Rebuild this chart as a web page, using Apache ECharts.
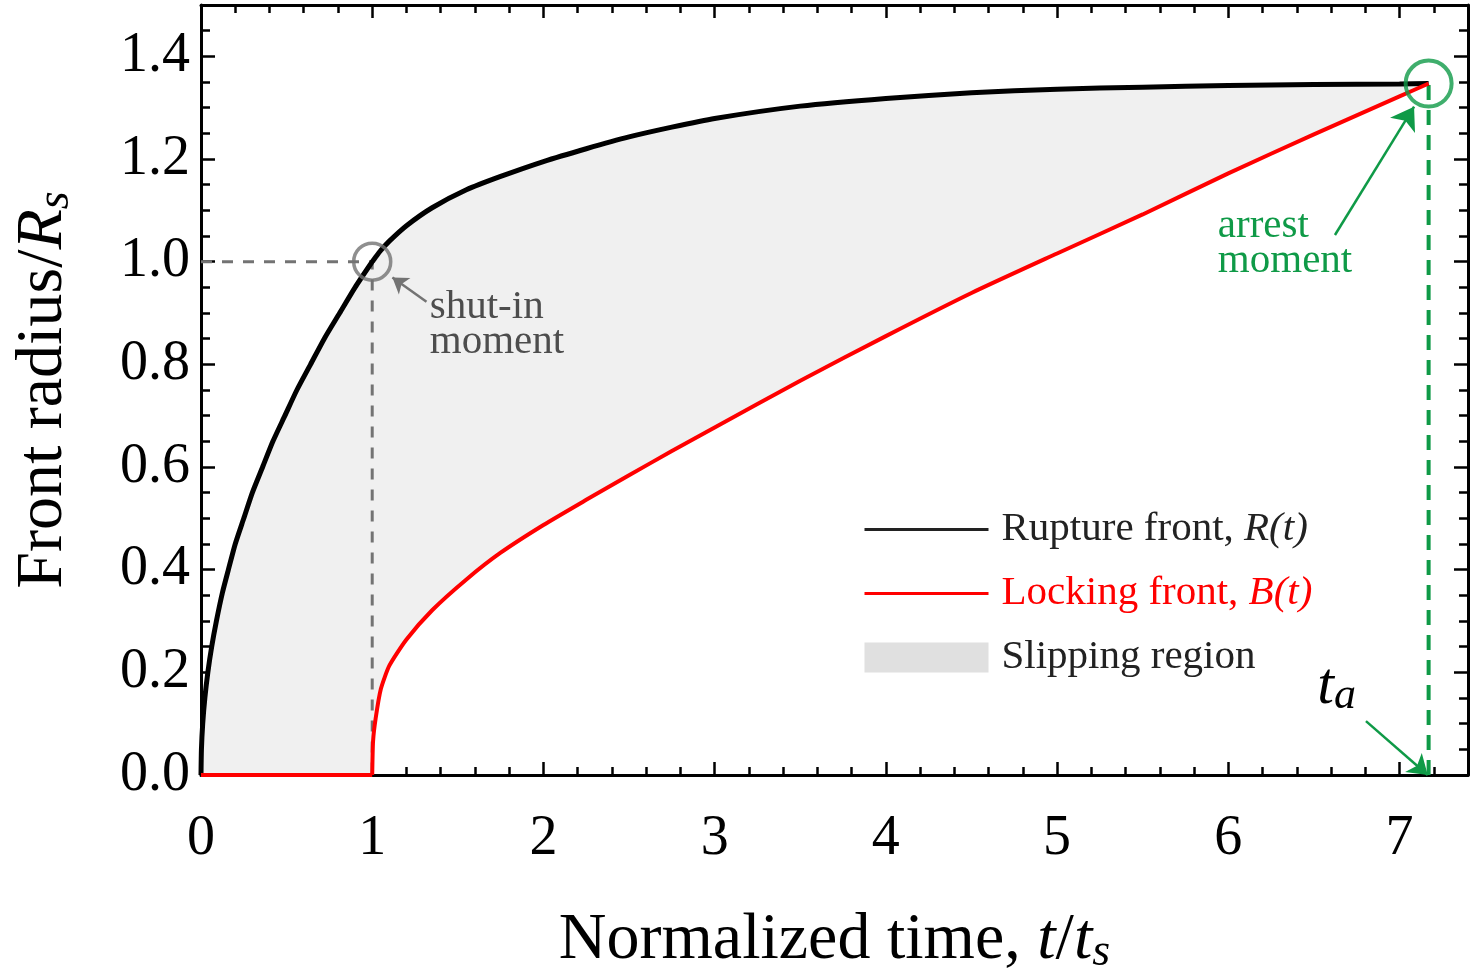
<!DOCTYPE html>
<html>
<head>
<meta charset="utf-8">
<title>Front radius vs normalized time</title>
<script src="https://cdn.jsdelivr.net/npm/echarts@6/dist/echarts.min.js"></script>
<style>
html, body { margin: 0; padding: 0; background: #fff; }
#chart { width: 1470px; height: 975px; }
</style>
</head>
<body>
<div id="chart"></div>
<script>
// normalized time t/ts (shared by both fronts)
var times = [0, 0.0025, 0.01, 0.0225, 0.04, 0.0625, 0.09, 0.125, 0.16, 0.2, 0.25, 0.3, 0.36, 0.42, 0.49, 0.56, 0.64, 0.72, 0.81, 0.9, 1.0,
    1.005, 1.02, 1.05, 1.1, 1.2, 1.35, 1.55, 1.75, 2.0, 2.25, 2.5, 2.75, 3.0, 3.5, 4.0, 4.5, 5.0, 5.5, 6.0, 6.5, 7.0, 7.17];
// rupture front R(t)/Rs
var rupture = [0, 0.05, 0.10, 0.15, 0.20, 0.25, 0.30, 0.355, 0.40, 0.45, 0.50, 0.55, 0.60, 0.65, 0.70, 0.75, 0.80, 0.85, 0.90, 0.95, 1.0,
    1.002, 1.009, 1.022, 1.04, 1.07, 1.105, 1.14, 1.166, 1.195, 1.22, 1.243, 1.262, 1.279, 1.303, 1.318, 1.329, 1.336, 1.34, 1.343, 1.345, 1.346, 1.347];
// locking front B(t)/Rs
var locking = [0, 0, 0, 0, 0, 0, 0, 0, 0, 0, 0, 0, 0, 0, 0, 0, 0, 0, 0, 0, 0,
    0.066, 0.11, 0.167, 0.213, 0.264, 0.321, 0.381, 0.433, 0.487, 0.536, 0.584, 0.631, 0.677, 0.768, 0.855, 0.939, 1.016, 1.092, 1.172, 1.248, 1.322, 1.347];

// marked moments
var shutIn = [1, 1];
var arrest = [7.17, 1.347];
// arrows [from, to]
var shutInArrow = [[1.317, 0.922], [1.118, 0.969]];
var arrestArrow = [[6.623, 1.052], [7.085, 1.302]];
var taArrow = [[6.804, 0.105], [7.165, 0.0]];
// text anchors
var shutInText = [1.336, 0.945];
var arrestText = [5.939, 1.104];
var taText = [6.52, 0.17];

var SERIF = '"Liberation Serif", "DejaVu Serif", serif';
var GREEN = '#0f9a47';
var GREY = '#737373';

// index where B starts rising (t = 1)
var lockStart = times.indexOf(1.0);

function pairs(ys, from, to) {
    var out = [];
    for (var i = from || 0; i < (to || times.length); i++) out.push([times[i], ys[i]]);
    return out;
}

function majorX(pos, withLabel) {
    return {
        type: 'value', min: 0, max: 7.4, interval: 1, position: pos,
        axisLine: { show: true, onZero: false, lineStyle: { color: '#000', width: 3 } },
        axisTick: { show: true, inside: true, length: 13, lineStyle: { color: '#000', width: 2.5 } },
        axisLabel: {
            show: withLabel, margin: 36, fontSize: 56, fontFamily: SERIF, color: '#000',
            showMaxLabel: false,
            formatter: function (v) { return v % 1 === 0 ? String(v) : ''; }
        },
        splitLine: { show: false }
    };
}
function minorX(pos) {
    return {
        type: 'value', min: 0, max: 7.4, interval: 0.2, position: pos,
        axisLine: { show: false, onZero: false },
        axisTick: { show: true, inside: true, length: 8, lineStyle: { color: '#000', width: 2.5 } },
        axisLabel: { show: false }, splitLine: { show: false }
    };
}
function majorY(pos, withLabel) {
    return {
        type: 'value', min: 0, max: 1.5, interval: 0.2, position: pos,
        axisLine: { show: true, onZero: false, lineStyle: { color: '#000', width: 3 } },
        axisTick: { show: true, inside: true, length: 14, lineStyle: { color: '#000', width: 2.5 } },
        axisLabel: {
            show: withLabel, margin: 11, fontSize: 56, fontFamily: SERIF, color: '#000',
            showMaxLabel: false,
            formatter: function (v) { return v > 1.45 ? '' : v.toFixed(1); }
        },
        splitLine: { show: false }
    };
}
function minorY(pos) {
    return {
        type: 'value', min: 0, max: 1.5, interval: 0.05, position: pos,
        axisLine: { show: false, onZero: false },
        axisTick: { show: true, inside: true, length: 9, lineStyle: { color: '#000', width: 2.5 } },
        axisLabel: { show: false }, splitLine: { show: false }
    };
}

var titleRich = {
    n: { fontFamily: SERIF, fontSize: 66, lineHeight: 70, color: '#000' },
    i: { fontFamily: SERIF, fontSize: 66, lineHeight: 70, fontStyle: 'italic', color: '#000' },
    s: { fontFamily: SERIF, fontSize: 46, lineHeight: 40, fontStyle: 'italic', color: '#000', verticalAlign: 'bottom' }
};

var xBottom = majorX('bottom', true);
xBottom.name = '{n|Normalized time, }{i|t}{n|/}{i|t}{s|s}';
xBottom.nameLocation = 'middle';
xBottom.nameGap = 131;
xBottom.nameTextStyle = { rich: titleRich };

var yLeft = majorY('left', true);
yLeft.name = '{n|Front radius/}{i|R}{s|s}';
yLeft.nameLocation = 'middle';
yLeft.nameRotate = 90;
yLeft.nameGap = 122;
yLeft.nameTextStyle = { rich: titleRich };

var legendNames = {
    'Rupture front': '{n|Rupture front, }{i|R(t)}',
    'Locking front': '{n|Locking front, }{i|B(t)}',
    'Slipping region': '{n|Slipping region}'
};

var option = {
    animation: false,
    backgroundColor: '#fff',
    grid: { left: 201, right: 2, top: 5, bottom: 200, outerBoundsMode: 'none' },
    xAxis: [xBottom, majorX('top', false), minorX('bottom'), minorX('top')],
    yAxis: [yLeft, majorY('right', false), minorY('left'), minorY('right')],
    legend: {
        left: 863, top: 509, orient: 'vertical', padding: 0,
        itemWidth: 124, itemHeight: 30, itemGap: 23,
        selectedMode: false,
        textStyle: {
            fontFamily: SERIF, fontSize: 41, color: '#222', padding: [0, 0, 0, 8],
            rich: {
                n: { fontFamily: SERIF, fontSize: 41, lineHeight: 44 },
                i: { fontFamily: SERIF, fontSize: 41, lineHeight: 44, fontStyle: 'italic' }
            }
        },
        formatter: function (name) { return legendNames[name]; },
        data: [
            { name: 'Rupture front', lineStyle: { width: 3, color: '#222' }, itemStyle: { opacity: 0 } },
            { name: 'Locking front', lineStyle: { width: 3, color: '#ff0000' }, itemStyle: { opacity: 0 }, textStyle: { color: '#ff0000' } },
            { name: 'Slipping region', icon: 'rect', itemStyle: { color: '#e0e0e0' } }
        ]
    },
    series: [
        {
            // band between R(t) above and B(t) below
            name: 'Slipping region', type: 'custom', data: [[0, 0]], silent: true, z: 1,
            itemStyle: { color: '#e0e0e0' },
            renderItem: function (params, api) {
                var pts = [];
                for (var i = 0; i < times.length; i++) pts.push(api.coord([times[i], rupture[i]]));
                for (var j = times.length - 1; j >= 0; j--) pts.push(api.coord([times[j], locking[j]]));
                return { type: 'polygon', shape: { points: pts }, style: { fill: '#f0f0f0' } };
            }
        },
        {
            name: 'shut-in guide', type: 'line', data: [[0, shutIn[1]], shutIn, [shutIn[0], 0]],
            symbol: 'none', lineStyle: { color: GREY, width: 3, type: [11, 10] }, silent: true, z: 2
        },
        {
            name: 'arrest guide', type: 'line', data: [[arrest[0], 0], arrest],
            symbol: 'none', lineStyle: { color: GREEN, width: 4, type: [15, 10] }, silent: true, z: 2
        },
        {
            name: 'Rupture front', type: 'line', data: pairs(rupture),
            symbol: 'none', smooth: 0.2,
            lineStyle: { color: '#000', width: 5 }, itemStyle: { color: '#222' },
            silent: true, z: 3
        },
        {
            name: 'Locking front', type: 'line', data: pairs(locking, 0, lockStart + 1),
            symbol: 'none', lineStyle: { color: '#ff0000', width: 4 }, itemStyle: { color: '#ff0000' },
            silent: true, z: 3
        },
        {
            name: 'Locking front', type: 'line', data: pairs(locking, lockStart),
            symbol: 'none', smooth: 0.2,
            lineStyle: { color: '#ff0000', width: 4 }, itemStyle: { color: '#ff0000' },
            silent: true, z: 3
        },
        {
            name: 'shut-in moment', type: 'scatter', data: [shutIn], symbolSize: 37,
            itemStyle: { color: 'rgba(0,0,0,0)', borderColor: GREY, borderWidth: 3.5 }, silent: true, z: 4,
            markLine: {
                silent: true, animation: false, symbol: ['none', 'arrow'], symbolSize: 15,
                label: { show: false }, lineStyle: { color: GREY, width: 2.5, type: 'solid' },
                data: [[{ coord: shutInArrow[0] }, { coord: shutInArrow[1] }]]
            }
        },
        {
            name: 'arrest moment', type: 'scatter', data: [arrest], symbolSize: 46,
            itemStyle: { color: 'rgba(0,0,0,0)', borderColor: GREEN, borderWidth: 4 }, silent: true, z: 4,
            markLine: {
                silent: true, animation: false, symbol: ['none', 'arrow'], symbolSize: 22,
                label: { show: false }, lineStyle: { color: GREEN, width: 2.5, type: 'solid' },
                data: [
                    [{ coord: arrestArrow[0] }, { coord: arrestArrow[1] }],
                    [{ coord: taArrow[0] }, { coord: taArrow[1], symbolSize: 19 }]
                ]
            }
        }
    ]
};

var chart = echarts.init(document.getElementById('chart'), null, { renderer: 'canvas' });
chart.setOption(option);

// annotation texts anchored in data coordinates
function px(p) { return chart.convertToPixel({ seriesIndex: 3 }, p); }
var pShut = px(shutInText), pArrest = px(arrestText), pTa = px(taText);
chart.setOption({
    graphic: [
        {
            type: 'text', x: pShut[0], y: pShut[1], z: 10, silent: true,
            style: { text: 'shut-in\nmoment', font: '41px ' + SERIF, fill: '#4d4d4d', lineHeight: 35, align: 'left', verticalAlign: 'top' }
        },
        {
            type: 'text', x: pArrest[0], y: pArrest[1], z: 10, silent: true,
            style: { text: 'arrest\nmoment', font: '41px ' + SERIF, fill: GREEN, lineHeight: 35, align: 'left', verticalAlign: 'top' }
        },
        {
            type: 'text', x: pTa[0], y: pTa[1], z: 10, silent: true,
            style: {
                text: '{t|t}{a|a}', align: 'left', verticalAlign: 'middle',
                rich: {
                    t: { font: 'italic 60px ' + SERIF, fill: '#000', lineHeight: 62 },
                    a: { font: 'italic 44px ' + SERIF, fill: '#000', lineHeight: 30, verticalAlign: 'bottom' }
                }
            }
        }
    ]
});
</script>
</body>
</html>
